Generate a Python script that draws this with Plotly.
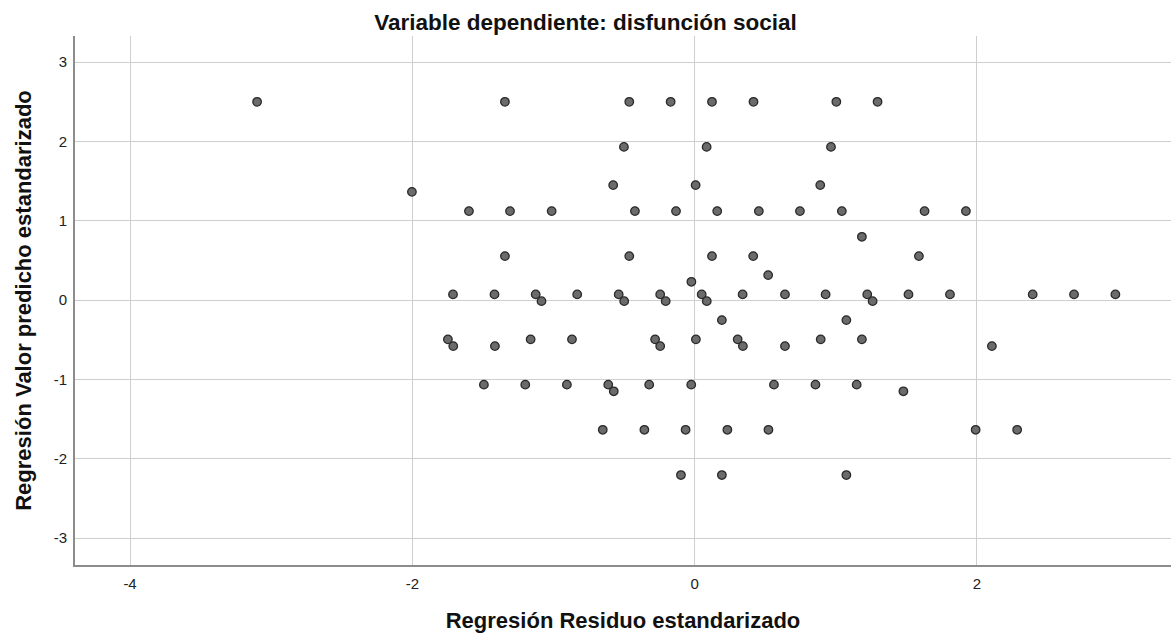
import plotly.graph_objects as go

# Regresión Residuo estandarizado (x) vs Regresión Valor predicho estandarizado (y)
residuo = [
    -3.10, -1.344, -0.463, -0.170, 0.123, 0.417, 1.004, 1.296,
    -0.501, 0.085, 0.966,
    -0.577, 0.007, 0.890,
    -2.003,
    -1.599, -1.308, -1.013, -0.423, -0.132, 0.160, 0.455, 0.746, 1.043, 1.629, 1.922,
    1.185,
    -1.344, -0.463, 0.123, 0.415, 1.589,
    0.521,
    -0.023,
    -1.712, -1.418, -1.126, -0.832, -0.538, -0.244, 0.050, 0.340, 0.640, 0.928, 1.223, 1.515, 1.809, 2.395, 2.688, 2.981,
    -1.085, -0.499, -0.205, 0.086, 1.261,
    0.193, 1.075,
    -1.748, -1.162, -0.869, -0.280, 0.009, 0.305, 0.893, 1.185,
    -1.710, -1.415, -0.244, 0.342, 0.640, 2.106,
    -1.493, -1.200, -0.905, -0.612, -0.322, -0.024, 0.562, 0.856, 1.148,
    -0.573, 1.479,
    -0.651, -0.356, -0.064, 0.232, 0.523, 1.991, 2.285,
    -0.097, 0.193, 1.075,
]
predicho = [
    2.50, 2.50, 2.50, 2.50, 2.50, 2.50, 2.50, 2.50,
    1.932, 1.932, 1.932,
    1.45, 1.45, 1.45,
    1.365,
    1.122, 1.122, 1.122, 1.122, 1.122, 1.122, 1.122, 1.122, 1.122, 1.122, 1.122,
    0.798,
    0.555, 0.555, 0.555, 0.555, 0.555,
    0.315,
    0.231,
    0.072, 0.072, 0.072, 0.072, 0.072, 0.072, 0.072, 0.072, 0.072, 0.072, 0.072, 0.072, 0.072, 0.072, 0.072, 0.072,
    -0.013, -0.013, -0.013, -0.013, -0.013,
    -0.252, -0.252,
    -0.495, -0.495, -0.495, -0.495, -0.495, -0.495, -0.495, -0.495,
    -0.58, -0.58, -0.58, -0.58, -0.58, -0.58,
    -1.066, -1.066, -1.066, -1.066, -1.066, -1.066, -1.066, -1.066, -1.066,
    -1.15, -1.15,
    -1.635, -1.635, -1.635, -1.635, -1.635, -1.635, -1.635,
    -2.206, -2.206, -2.206,
]

x_ticks = [-4, -2, 0, 2]
x_tick_labels = ["-4", "-2", "0", "2"]
y_ticks = [-3, -2, -1, 0, 1, 2, 3]
y_tick_labels = ["-3", "-2", "-1", "0", "1", "2", "3"]

titulo = "Variable dependiente: disfunción social"
x_titulo = "Regresión Residuo estandarizado"
y_titulo = "Regresión Valor predicho estandarizado"

FONT = "Liberation Sans, Arial, sans-serif"

fig = go.Figure(
    go.Scatter(
        x=residuo,
        y=predicho,
        mode="markers",
        marker=dict(size=8.5, color="#6b6b6b", line=dict(color="#2a2a2a", width=1.3)),
        showlegend=False,
        hoverinfo="x+y",
    )
)

fig.update_layout(
    width=1171,
    height=638,
    margin=dict(l=75, r=0, t=36, b=73),
    paper_bgcolor="white",
    plot_bgcolor="white",
    font=dict(family=FONT, color="#222222"),
    title=dict(
        text=titulo,
        x=0.5, xref="container", xanchor="center",
        y=1 - 22 / 638, yref="container", yanchor="middle",
        font=dict(family=FONT, size=22.5, color="#111111", weight="bold"),
    ),
    xaxis=dict(
        range=[-4.39, 3.375],
        tickvals=x_ticks, ticktext=x_tick_labels,
        showgrid=True, gridcolor="#cfcfcf", gridwidth=1,
        zeroline=False,
        showline=True, linecolor="#8c8c8c", linewidth=2,
        ticks="", ticklabelstandoff=4,
        tickfont=dict(size=15, color="#222222"),
        title=dict(text=x_titulo, standoff=22,
                   font=dict(family=FONT, size=22, color="#111111", weight="bold")),
        automargin=False,
    ),
    yaxis=dict(
        range=[-3.34, 3.33],
        tickvals=y_ticks, ticktext=y_tick_labels,
        showgrid=True, gridcolor="#cfcfcf", gridwidth=1,
        zeroline=False,
        showline=True, linecolor="#8c8c8c", linewidth=2,
        ticks="", ticklabelstandoff=3,
        tickfont=dict(size=15, color="#222222"),
        title=dict(text=y_titulo, standoff=16,
                   font=dict(family=FONT, size=22, color="#111111", weight="bold")),
        automargin=False,
    ),
)

fig.write_html("out.html")
